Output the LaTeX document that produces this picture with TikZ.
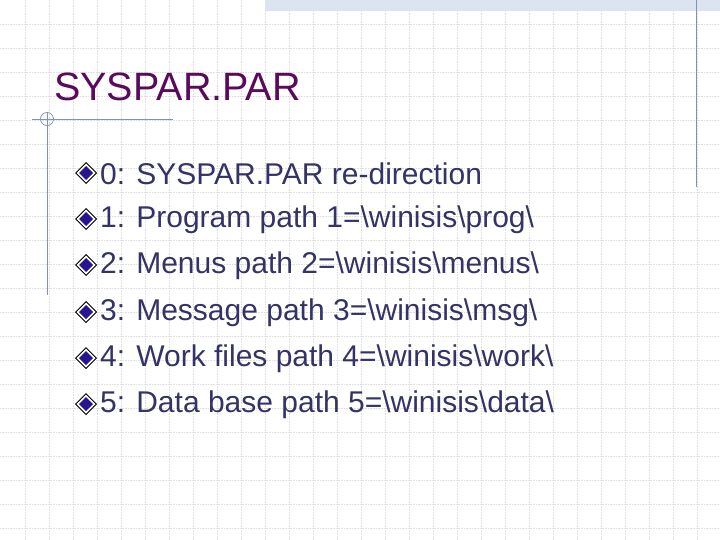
\documentclass[tikz,border=0pt]{standalone}
\usepackage{fontspec}
\setmainfont{Liberation Sans}
\usetikzlibrary{patterns}
\definecolor{txt}{HTML}{333366}
\definecolor{ttl}{HTML}{5A0A5A}
\definecolor{rule}{HTML}{8090B8}
\definecolor{bul}{HTML}{2A1590}
\definecolor{band}{HTML}{DCE4F2}
\tikzset{x=1pt,y=-1pt,
  item/.style={anchor=west,inner sep=0pt,text=txt,font=\fontsize{30}{30}\selectfont},
  gridline/.style={gray!25,densely dotted,line width=0.6}}
\begin{document}
\begin{tikzpicture}
\useasboundingbox (0,0) rectangle (720,540);
\fill[white] (0,0) rectangle (720,540);
\foreach \i in {1,...,29}{\draw[gridline] (\i*24+1,0) -- (\i*24+1,540);}
\foreach \j in {1,...,22}{\draw[gridline] (0,\j*24) -- (720,\j*24);}
\fill[band] (265,0) rectangle (720,11);
\draw[rule,line width=0.9] (696,0) -- (696,187);
\draw[rule,line width=0.9] (32,119) -- (173,119);
\draw[rule,line width=0.9] (47,112) -- (47,295);
\draw[rule,line width=0.7] (47,119) circle (6.5);
\node[anchor=west,inner sep=0pt,text=ttl,font=\fontsize{39.5}{39.5}\selectfont] (title) at (54,87) {SYSPAR.PAR};
\foreach \n/\y/\t in {0/174/{0: SYSPAR.PAR re-direction},1/220/{1: Program path 1=\textbackslash winisis\textbackslash prog\textbackslash},2/266/{2: Menus path 2=\textbackslash winisis\textbackslash menus\textbackslash},3/313/{3: Message path 3=\textbackslash winisis\textbackslash msg\textbackslash},4/359/{4: Work files path 4=\textbackslash winisis\textbackslash work\textbackslash},5/405/{5: Data base path 5=\textbackslash winisis\textbackslash data\textbackslash}}{
  \node[item] (it\n) at (100,\y) {\t};
  \coordinate (b\n) at (86,\y-1);
  \fill[black] ([xshift=-11]b\n) -- ([yshift=-11]b\n) -- ([xshift=11]b\n) -- ([yshift=11]b\n) -- cycle;
  \fill[white] ([xshift=-9.5]b\n) -- ([yshift=-9.5]b\n) -- ([xshift=9.5]b\n) -- ([yshift=9.5]b\n) -- cycle;
  \fill[bul] ([xshift=-7]b\n) -- ([yshift=-7]b\n) -- ([xshift=7]b\n) -- ([yshift=7]b\n) -- cycle;
}
\end{tikzpicture}
\end{document}
